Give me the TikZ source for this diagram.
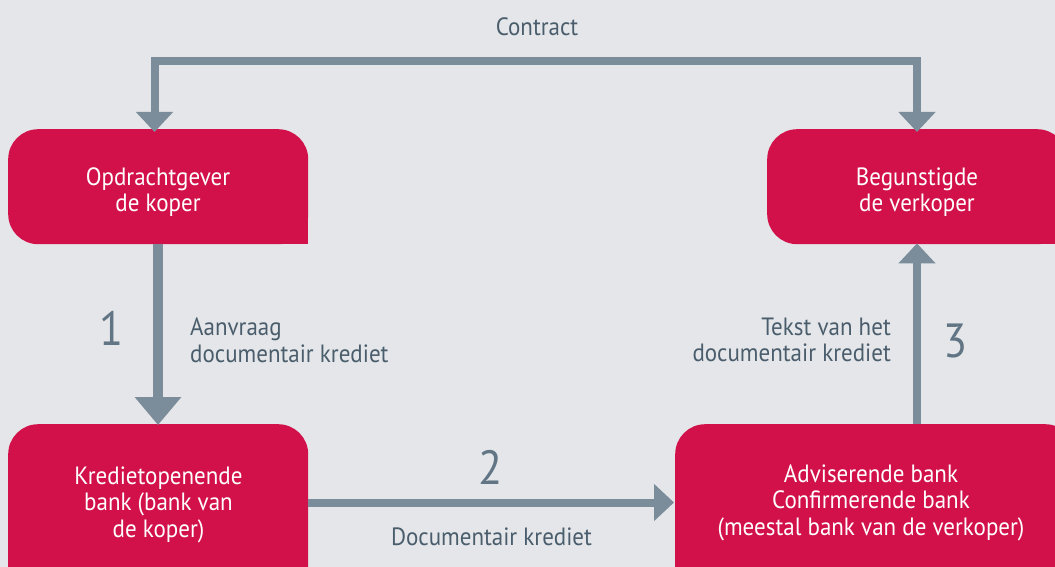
\documentclass[tikz,border=0pt]{standalone}
\usepackage{fontspec}
\setmainfont{PT Sans}[FakeStretch=0.92]
\usetikzlibrary{arrows.meta}
\definecolor{bg}{HTML}{E4E6E9}
\definecolor{boxred}{HTML}{D2114A}
\definecolor{arrowgrey}{HTML}{7B8C9A}
\definecolor{txtgrey}{HTML}{4A5D6C}
\definecolor{numgrey}{HTML}{627585}
\tikzset{
  box/.style={fill=boxred, rounded corners=30pt, inner sep=0pt, anchor=north west},
  boxtext/.style={text=white, align=center, inner sep=0pt, font=\fontsize{25}{26.5}\selectfont},
  lbl/.style={text=txtgrey, inner sep=0pt, font=\fontsize{25}{26.5}\selectfont},
  num/.style={text=numgrey, inner sep=0pt, font=\fontsize{48}{50}\selectfont},
  conn/.style={draw=arrowgrey, line width=8pt, line join=miter,
    -{Triangle[width=36pt,length=20pt]}},
  bigconn/.style={draw=arrowgrey, line width=10pt,
    -{Triangle[width=45pt,length=28pt]}}
}
\begin{document}
\begin{tikzpicture}[x=1pt,y=-1pt]
\useasboundingbox (0,0) rectangle (1055,567);
\clip (0,0) rectangle (1055,567);
\fill[bg] (0,0) rectangle (1055,567);

% boxes
\node[box, minimum width=300pt, minimum height=115pt] (opd) at (8,129) {};
\fill[boxred] (opd.south east) rectangle ++(-40,-40);
\node[box, minimum width=300pt, minimum height=115pt] (beg) at (767,129) {};
\fill[boxred] (beg.south east) rectangle ++(-40,-40);
\node[box, minimum width=300pt, minimum height=200pt] (kred) at (8,424) {};
\node[box, minimum width=400pt, minimum height=200pt] (adv) at (675,424) {};

% box texts
\node[boxtext] (topd) at (158,192) {Opdrachtgever\\de koper};
\node[boxtext] (tbeg) at (917,192) {Begunstigde\\de verkoper};
\node[boxtext] (tkred) at (158.5,504.5) {Kredietopenende\\bank (bank van\\de koper)};
\node[boxtext] (tadv) at (871,502.5) {Adviserende bank\\Confirmerende bank\\(meestal bank van de verkoper)};

% connectors
\coordinate (c1) at (154.5,61);
\coordinate (c2) at (917,61);
\draw[conn, {Triangle[width=36pt,length=20pt]}-{Triangle[width=36pt,length=20pt]}]
  ([yshift=-3pt]opd.north -| c1) -- (c1) -- (c2) -- ([yshift=-3pt]beg.north -| c2);
\draw[bigconn] (opd.south -| 158,0) -- ([yshift=-1pt]kred.north -| 158,0);
\draw[conn] (kred.east |- 0,502.5) -- ([xshift=-1pt]adv.west |- 0,502.5);
\draw[conn] (adv.north -| 917,0) -- ([yshift=1pt]beg.south -| 917,0);

% labels
\node[lbl] (contract) at (537,27) {Contract};
\node[lbl, anchor=west, align=left] (aanvraag) at (190,340.5) {Aanvraag\\documentair krediet};
\node[lbl, anchor=east, align=right] (tekst) at (891,340) {Tekst van het\\documentair krediet};
\node[lbl] (dockred) at (491.5,537) {Documentair krediet};
\node[num] (n1) at (112,328.5) {1};
\node[num] (n2) at (491,467) {2};
\node[num] (n3) at (956,341) {3};
\end{tikzpicture}
\end{document}
